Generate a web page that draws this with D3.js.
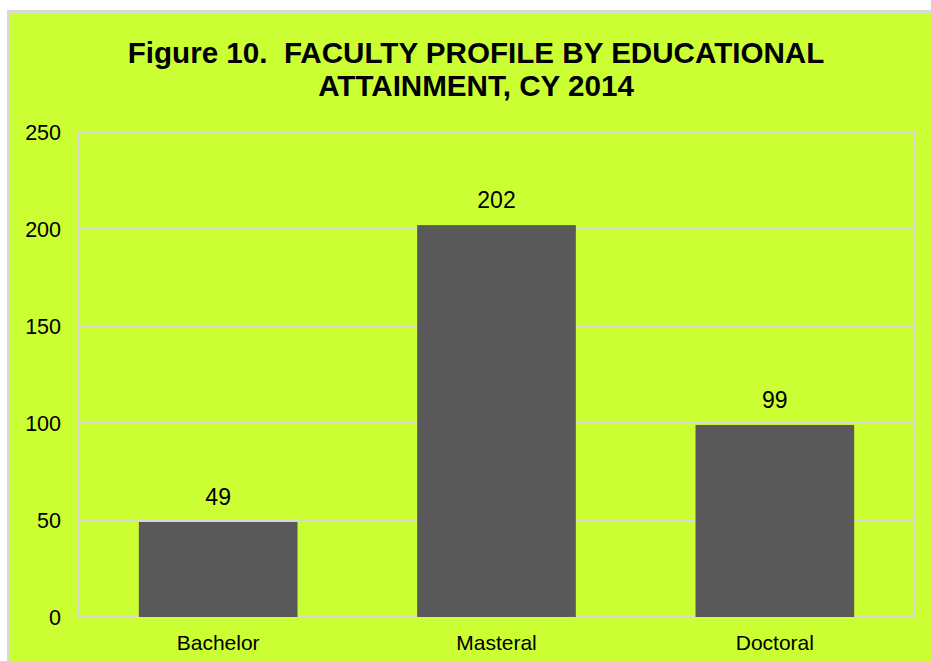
<!DOCTYPE html>
<html>
<head>
<meta charset="utf-8">
<script src="https://cdn.jsdelivr.net/npm/d3@7"></script>
<style>
  html, body { margin: 0; padding: 0; background: #fff; }
  svg { display: block; font-family: Arial, "Liberation Sans", sans-serif; }
  .title { white-space: pre; }
</style>
</head>
<body>
<div id="chart"></div>
<script>
// chart data
const categories = ["Bachelor", "Masteral", "Doctoral"];
const values = [49, 202, 99];
const yTicks = [0, 50, 100, 150, 200, 250];
const titleLines = ["Figure 10.  FACULTY PROFILE BY EDUCATIONAL", "ATTAINMENT, CY 2014"];

const width = 931;
const height = 661;
const margin = {top: 132, right: 17, bottom: 44, left: 79};

const svg = d3.select("#chart").append("svg")
  .attr("width", width)
  .attr("height", height);

// chart area background + border
svg.append("rect")
  .attr("x", 8.5).attr("y", 11.5)
  .attr("width", 940).attr("height", 670)
  .attr("fill", "#ccff33")
  .attr("stroke", "#d9d9d9")
  .attr("stroke-width", 3);

const x = d3.scaleBand()
  .domain(categories)
  .range([margin.left, width - margin.right])
  .paddingInner(0.43)
  .paddingOuter(0.215);

const y = d3.scaleLinear()
  .domain([0, 250])
  .range([height - margin.bottom, margin.top]);

// gridlines
svg.append("g")
  .selectAll("line")
  .data(yTicks.filter(d => d > 0))
  .join("line")
  .attr("x1", margin.left).attr("x2", width - margin.right)
  .attr("y1", d => y(d)).attr("y2", d => y(d))
  .attr("stroke", "#d9d9d9")
  .attr("stroke-width", 2);

// plot frame (left / right / bottom)
svg.append("path")
  .attr("d", `M${margin.left},${margin.top}V${y(0)}H${width - margin.right}V${margin.top}`)
  .attr("fill", "none")
  .attr("stroke", "#d9d9d9")
  .attr("stroke-width", 2);

// bars
svg.append("g")
  .selectAll("rect")
  .data(values)
  .join("rect")
  .attr("x", (d, i) => x(categories[i]))
  .attr("y", d => y(d))
  .attr("width", x.bandwidth())
  .attr("height", d => y(0) - y(d))
  .attr("fill", "#595959");

// value labels
svg.append("g")
  .selectAll("text")
  .data(values)
  .join("text")
  .attr("x", (d, i) => x(categories[i]) + x.bandwidth() / 2)
  .attr("y", d => y(d) - 17)
  .attr("text-anchor", "middle")
  .attr("font-size", 23)
  .attr("fill", "#000")
  .text(d => d);

// y axis labels
svg.append("g")
  .selectAll("text")
  .data(yTicks)
  .join("text")
  .attr("x", 61)
  .attr("y", d => y(d))
  .attr("dy", "0.38em")
  .attr("text-anchor", "end")
  .attr("font-size", 21.5)
  .text(d => d);

// x axis labels
svg.append("g")
  .selectAll("text")
  .data(categories)
  .join("text")
  .attr("x", d => x(d) + x.bandwidth() / 2)
  .attr("y", 650)
  .attr("text-anchor", "middle")
  .attr("font-size", 21)
  .text(d => d);

// title
svg.append("g")
  .selectAll("text")
  .data(titleLines)
  .join("text")
  .attr("class", "title")
  .attr("x", 476)
  .attr("y", (d, i) => 63 + i * 33)
  .attr("text-anchor", "middle")
  .attr("font-size", 29.6)
  .attr("font-weight", "bold")
  .text(d => d);
</script>
</body>
</html>
